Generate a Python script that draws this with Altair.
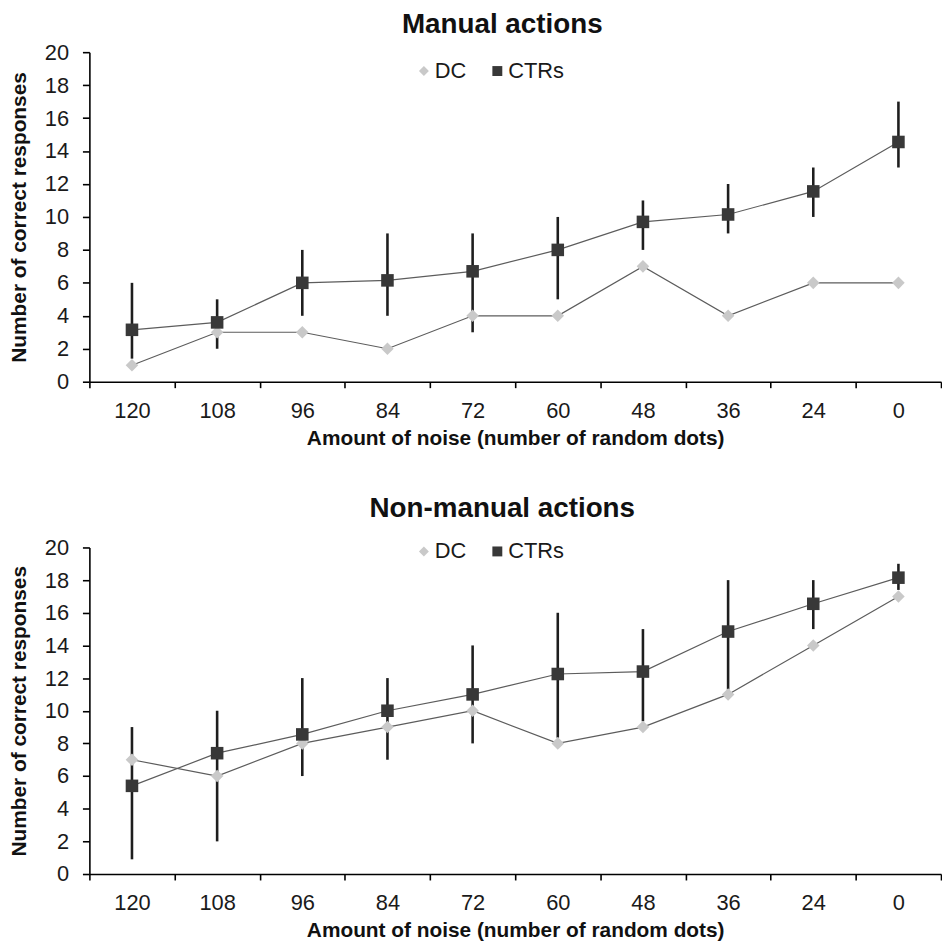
import altair as alt
import pandas as pd

noise = ["120", "108", "96", "84", "72", "60", "48", "36", "24", "0"]
series_names = ["DC", "CTRs"]

manual_dc = [1, 3, 3, 2, 4, 4, 7, 4, 6, 6]
manual_ctr = [3.15, 3.6, 6.0, 6.15, 6.7, 8.0, 9.7, 10.15, 11.55, 14.55]
manual_lo = [1.4, 2, 4, 4, 3, 5, 8, 9, 10, 13]
manual_hi = [6, 5, 8, 9, 9, 10, 11, 12, 13, 17]

nonmanual_dc = [7, 6, 8, 9, 10, 8, 9, 11, 14, 17]
nonmanual_ctr = [5.4, 7.4, 8.55, 10.0, 11.0, 12.25, 12.4, 14.85, 16.55, 18.15]
nonmanual_lo = [0.9, 2, 6, 7, 8, 8.35, 9.35, 11.3, 15, 17.4]
nonmanual_hi = [9, 10, 12, 12, 14, 16, 15, 18, 18, 19]

FONT = "Liberation Sans"
W = 858


def make_legend(legend_y):
    return alt.Legend(
        title=None,
        orient="none",
        legendX=326,
        legendY=legend_y,
        direction="horizontal",
        labelFontSize=22,
        labelFont=FONT,
        labelColor="#1a1a1a",
        symbolSize=100,
        symbolStrokeWidth=0,
        labelOffset=0,
        columnPadding=20,
        padding=0,
    )


def panel(title, dc, ctr, lo, hi, height, legend_y, title_offset):
    pts = pd.DataFrame(
        {
            "noise": noise * 2,
            "series": ["DC"] * len(noise) + ["CTRs"] * len(noise),
            "value": list(dc) + list(ctr),
        }
    )
    err = pd.DataFrame({"noise": noise, "lo": lo, "hi": hi})

    x = alt.X(
        "noise:N",
        sort=noise,
        scale=alt.Scale(paddingInner=0, paddingOuter=0),
        axis=alt.Axis(
            title="Amount of noise (number of random dots)",
            labelAngle=0,
            tickBand="extent",
            tickSize=6,
            labelPadding=13,
            titlePadding=6,
        ),
    )
    y_scale = alt.Scale(domain=[0, 20], nice=False)
    y_axis = alt.Axis(
        title="Number of correct responses",
        values=list(range(0, 21, 2)),
        tickSize=7,
        labelPadding=14,
        titlePadding=15,
        grid=False,
    )
    y = alt.Y("value:Q", scale=y_scale, axis=y_axis)

    lines = (
        alt.Chart(pts)
        .mark_line(color="#5c5c5c", strokeWidth=1.2)
        .encode(x=x, y=y, detail="series:N")
    )
    bars = (
        alt.Chart(err)
        .mark_rule(color="#1e1e1e", strokeWidth=2.6)
        .encode(
            x=x,
            y=alt.Y("lo:Q", scale=y_scale, axis=y_axis),
            y2="hi:Q",
        )
    )
    points = (
        alt.Chart(pts)
        .mark_point(filled=True, size=160, opacity=1)
        .encode(
            x=x,
            y=y,
            color=alt.Color(
                "series:N",
                scale=alt.Scale(domain=series_names, range=["#c9c9c9", "#383838"]),
                legend=make_legend(legend_y),
            ),
            shape=alt.Shape(
                "series:N",
                scale=alt.Scale(domain=series_names, range=["diamond", "square"]),
                legend=make_legend(legend_y),
            ),
        )
    )
    return alt.layer(lines, bars, points).properties(
        width=W,
        height=height,
        title=alt.TitleParams(
            title,
            fontSize=28,
            font=FONT,
            fontWeight="bold",
            color="#111111",
            anchor="middle",
            offset=title_offset,
            dx=-13,
        ),
    )


top = panel("Manual actions", manual_dc, manual_ctr, manual_lo, manual_hi, 332, 8, 2)
bottom = panel(
    "Non-manual actions", nonmanual_dc, nonmanual_ctr, nonmanual_lo, nonmanual_hi, 329, -7, 14
)

chart = (
    alt.vconcat(top, bottom, spacing=47)
    .resolve_scale(color="independent", shape="independent")
    .resolve_legend(color="independent", shape="independent")
    .properties(padding=0, background="white")
    .configure_view(stroke=None)
    .configure_axis(
        labelFont=FONT,
        labelFontSize=22,
        labelColor="#1a1a1a",
        titleFont=FONT,
        titleFontSize=21,
        titleFontWeight="bold",
        titleColor="#111111",
        domainColor="#000000",
        domainWidth=1.6,
        tickColor="#000000",
        tickWidth=1.6,
    )
)

chart.save("out.html", embed_options={"renderer": "svg", "actions": False})
